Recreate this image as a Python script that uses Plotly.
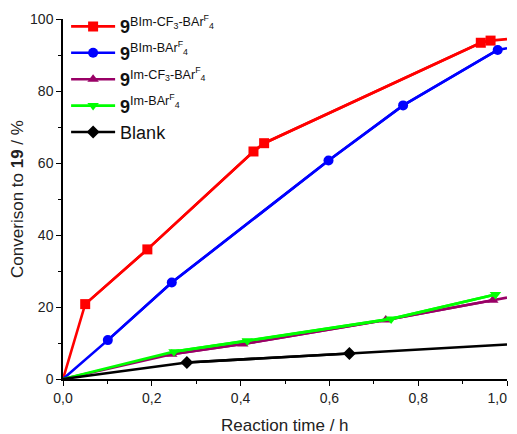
import plotly.graph_objects as go

# data
red_x = [0.0, 0.05, 0.19, 0.429, 0.453, 0.941, 0.963, 1.0]
red_y = [0.0, 20.8, 36.0, 63.2, 65.5, 93.4, 94.0, 94.4]
blue_x = [0.0, 0.101, 0.245, 0.598, 0.766, 0.979, 1.0]
blue_y = [0.0, 10.8, 26.8, 60.7, 76.0, 91.4, 91.9]
purple_x = [0.0, 0.245, 0.405, 0.727, 0.968, 1.0]
purple_y = [0.0, 6.9, 9.7, 16.4, 21.9, 22.6]
green_x = [0.0, 0.25, 0.415, 0.739, 0.974]
green_y = [0.0, 7.6, 10.6, 16.7, 23.5]
black_x = [0.0, 0.279, 0.645, 1.0]
black_y = [0.0, 4.6, 7.1, 9.6]

names = [
    "<b>9</b><sup>BIm-CF<sub>3</sub>-BAr<sup>F</sup><sub>4</sub></sup>",
    "<b>9</b><sup>BIm-BAr<sup>F</sup><sub>4</sub></sup>",
    "<b>9</b><sup>Im-CF<sub>3</sub>-BAr<sup>F</sup><sub>4</sub></sup>",
    "<b>9</b><sup>Im-BAr<sup>F</sup><sub>4</sub></sup>",
    "Blank",
]

x_tickvals = [0.0, 0.2, 0.4, 0.6, 0.8, 1.0]
x_ticktext = ["0,0", "0,2", "0,4", "0,6", "0,8", "1,0&nbsp;&nbsp;&nbsp;&nbsp;&nbsp;"]
y_tickvals = [0, 20, 40, 60, 80, 100]

# (x, y, colour, symbol, first marker index, end marker index (exclusive))
series = [
    (red_x, red_y, "#FF0000", "square", 1, len(red_x) - 1),
    (blue_x, blue_y, "#0000FF", "circle", 1, len(blue_x) - 1),
    (purple_x, purple_y, "#990066", "triangle-up", 1, len(purple_x) - 1),
    (green_x, green_y, "#00FF00", "triangle-down", 1, len(green_x)),
    (black_x, black_y, "#000000", "diamond", 1, len(black_x) - 1),
]

fig = go.Figure()
for i, ((xs, ys, col, sym, a, b), nm) in enumerate(zip(series, names)):
    # full connecting line (no legend)
    fig.add_trace(go.Scatter(
        x=xs, y=ys, mode="lines", showlegend=False, legendgroup=str(i),
        line=dict(color=col, width=2.6), hoverinfo="skip",
    ))
    # marked data points
    fig.add_trace(go.Scatter(
        x=xs[a:b], y=ys[a:b], mode="lines+markers", name=nm, legendgroup=str(i),
        line=dict(color=col, width=2.6),
        marker=dict(color=col, symbol=sym, size=10),
    ))

axis_common = dict(
    showline=True, linecolor="black", linewidth=1.5,
    ticks="outside", ticklen=5, tickwidth=1, tickcolor="black",
    showgrid=False, zeroline=False, mirror=False,
    ticklabeloverflow="allow",
    tickfont=dict(family="Liberation Sans, Arial", size=14, color="#222"),
)

# page body has an 8px margin, so the figure is sized/offset to compensate
fig.update_layout(
    width=509, height=426,
    margin=dict(l=55, r=10, t=11, b=55, autoexpand=False),
    paper_bgcolor="white", plot_bgcolor="white",
    font=dict(family="Liberation Sans, Arial", color="#222"),
    xaxis=dict(
        range=[0, 1.0], tickvals=x_tickvals, ticktext=x_ticktext,
        minor=dict(ticks="outside", ticklen=3, dtick=0.1, tick0=0, tickcolor="black"),
        automargin=False,
        **axis_common,
    ),
    yaxis=dict(
        range=[0, 100], tickvals=y_tickvals,
        minor=dict(ticks="outside", ticklen=3, dtick=10, tick0=0, tickcolor="black"),
        title=dict(text="Converison to <b>19</b> / %", font=dict(size=17), standoff=2),
        automargin=False,
        **axis_common,
    ),
    legend=dict(
        x=0.007, y=1.03, xanchor="left", yanchor="top",
        bgcolor="rgba(0,0,0,0)", font=dict(size=18, color="#111"),
        tracegroupgap=0, itemwidth=44,
    ),
    annotations=[dict(
        text="Reaction time / h", xref="paper", yref="paper",
        x=0.5, y=-0.13, xanchor="center", yanchor="middle",
        showarrow=False, font=dict(size=17, color="#222"),
    )],
)

fig.write_html("out.html")
